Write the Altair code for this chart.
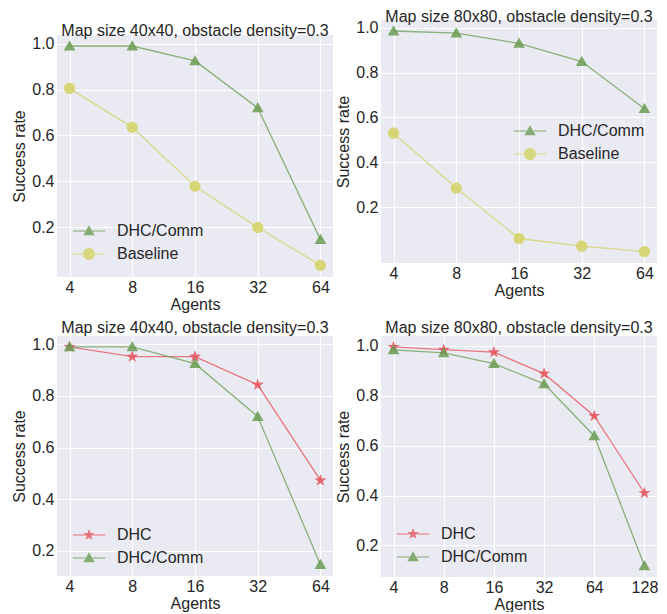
import altair as alt
import pandas as pd

# ---------------- data ----------------
agents_64 = [4, 8, 16, 32, 64]
agents_128 = [4, 8, 16, 32, 64, 128]

p1_comm = [0.99, 0.99, 0.925, 0.72, 0.145]
p1_base = [0.805, 0.635, 0.378, 0.198, 0.033]

p2_comm = [0.985, 0.976, 0.93, 0.849, 0.639]
p2_base = [0.53, 0.286, 0.061, 0.027, 0.003]

p3_dhc = [0.99, 0.952, 0.952, 0.843, 0.473]
p3_comm = [0.99, 0.99, 0.925, 0.72, 0.147]

p4_dhc = [0.996, 0.985, 0.975, 0.889, 0.719, 0.41]
p4_comm = [0.984, 0.972, 0.929, 0.848, 0.639, 0.118]

titles = ["Map size 40x40, obstacle density=0.3", "Map size 80x80, obstacle density=0.3",
          "Map size 40x40, obstacle density=0.3", "Map size 80x80, obstacle density=0.3"]
y_ticks = [0.2, 0.4, 0.6, 0.8, 1.0]

# ---------------- style ----------------
FONT = "Liberation Sans"
TXT = "#262626"
COL = {"DHC/Comm": "#6a9c52", "Baseline": "#d2d264", "DHC": "#e5525c"}

TRI = "M0,-0.95L0.95,0.72L-0.95,0.72Z"
CIR = "M-1,0A1,1 0 1,1 1,0A1,1 0 1,1 -1,0Z"
STAR = ("M0,-1L0.235,-0.324L0.951,-0.309L0.38,0.124L0.588,0.809L0,0.4"
        "L-0.588,0.809L-0.38,0.124L-0.951,-0.309L-0.235,-0.324Z")
MARK = {"DHC/Comm": TRI, "Baseline": CIR, "DHC": STAR}
LINE_L = "M-2.7,-0.09H-0.6V0.09H-2.7Z"
LINE_R = "M0.6,-0.09H2.7V0.09H0.6Z"
LINE_LC = "M-2.7,-0.09H-1V0.09H-2.7Z"
LINE_RC = "M1,-0.09H2.7V0.09H1Z"
LEG = {"DHC/Comm": LINE_L + LINE_R + TRI, "Baseline": LINE_LC + LINE_RC + CIR,
       "DHC": LINE_L + LINE_R + STAR}
MSIZE = {"DHC/Comm": 150, "Baseline": 125, "DHC": 160}


def panel(agents, series, ydom, xdom, title, legx, legy, w, h, toff=3):
    names = [n for n, _ in series]
    rows = []
    for n, vals in series:
        for a, v in zip(agents, vals):
            rows.append({"agents": a, "rate": v, "series": n})
    df = pd.DataFrame(rows)

    x = alt.X("agents:Q", scale=alt.Scale(type="log", base=2, domain=xdom),
              axis=alt.Axis(values=agents, format="d", title="Agents"))
    y = alt.Y("rate:Q", scale=alt.Scale(domain=ydom, nice=False, zero=False),
              axis=alt.Axis(values=y_ticks, format=".1f", title="Success rate"))

    leg = alt.Legend(orient="none", legendX=legx, legendY=legy, title=None,
                     labelFontSize=16, labelFont=FONT, labelColor=TXT,
                     symbolSize=144, labelOffset=20, rowPadding=7, padding=0,
                     symbolStrokeWidth=0, symbolOpacity=0.8)

    layers = []
    for n in names:
        sub = df[df.series == n]
        layers.append(alt.Chart(sub).mark_line(strokeWidth=1.3, opacity=0.75, color=COL[n])
                      .encode(x=x, y=y))
    for n in names:
        sub = df[df.series == n]
        layers.append(alt.Chart(sub).mark_point(
            filled=True, shape=MARK[n], size=MSIZE[n], color=COL[n], opacity=0.85,
            strokeWidth=0).encode(x=x, y=y))
    legend_layer = alt.Chart(df).mark_point(filled=True, opacity=0.8).encode(
        x=x, y=y,
        color=alt.Color("series:N", scale=alt.Scale(domain=names, range=[COL[n] for n in names]),
                        legend=leg),
        shape=alt.Shape("series:N", scale=alt.Scale(domain=names, range=[LEG[n] for n in names]),
                        legend=leg),
    ).transform_filter("false")
    layers.append(legend_layer)

    return alt.layer(*layers).properties(
        width=w, height=h,
        title=alt.TitleParams(title, fontSize=16, font=FONT, color=TXT, fontWeight="normal",
                              offset=toff, anchor="middle"))


x5 = [4 / 2 ** 0.2, 64 * 2 ** 0.2]
x6 = [4 / 2 ** 0.25, 128 * 2 ** 0.25]

p1 = panel(agents_64, [("DHC/Comm", p1_comm), ("Baseline", p1_base)], [-0.018, 1.038], x5,
           titles[0], 24, 203, 276, 242, toff=-4)
p2 = panel(agents_64, [("DHC/Comm", p2_comm), ("Baseline", p2_base)], [-0.048, 1.034], x5,
           titles[1], 141, 103, 276, 243, toff=-5)
p3 = panel(agents_64, [("DHC", p3_dhc), ("DHC/Comm", p3_comm)], [0.103, 1.032], x5,
           titles[2], 24, 191, 276, 240, toff=0)
p4 = panel(agents_128, [("DHC", p4_dhc), ("DHC/Comm", p4_comm)], [0.073, 1.04], x6,
           titles[3], 24, 190, 276, 241, toff=0)

spacer = alt.Chart(pd.DataFrame({"a": [0]})).mark_point(opacity=0).encode(
    x=alt.value(0), y=alt.value(0)
).properties(width=276, height=1, view=alt.ViewBackground(fill="transparent", stroke=None))

left = alt.vconcat(alt.vconcat(spacer, p1, spacing=0), p3, spacing=8).resolve_scale(
    color="independent", shape="independent")
right = alt.vconcat(p2, p4, spacing=22).resolve_scale(color="independent", shape="independent")

chart = alt.hconcat(left, right, spacing=2).resolve_scale(
    color="independent", shape="independent"
).properties(
    padding={"left": 3, "top": 0, "right": 0, "bottom": 0}
).configure_view(fill="#EAEAF2", stroke=None).configure_axis(
    grid=True, gridColor="#ffffff", gridWidth=1.1, domain=False, ticks=False,
    labelFont=FONT, labelFontSize=16, labelColor=TXT, labelPadding=3,
    titleFont=FONT, titleFontSize=16, titleColor=TXT, titleFontWeight="normal",
    titlePadding=3
).configure_axisX(labelPadding=2, titlePadding=1).configure_axisY(titlePadding=4)

chart.save("out.html", embed_options={"renderer": "svg", "actions": False})
